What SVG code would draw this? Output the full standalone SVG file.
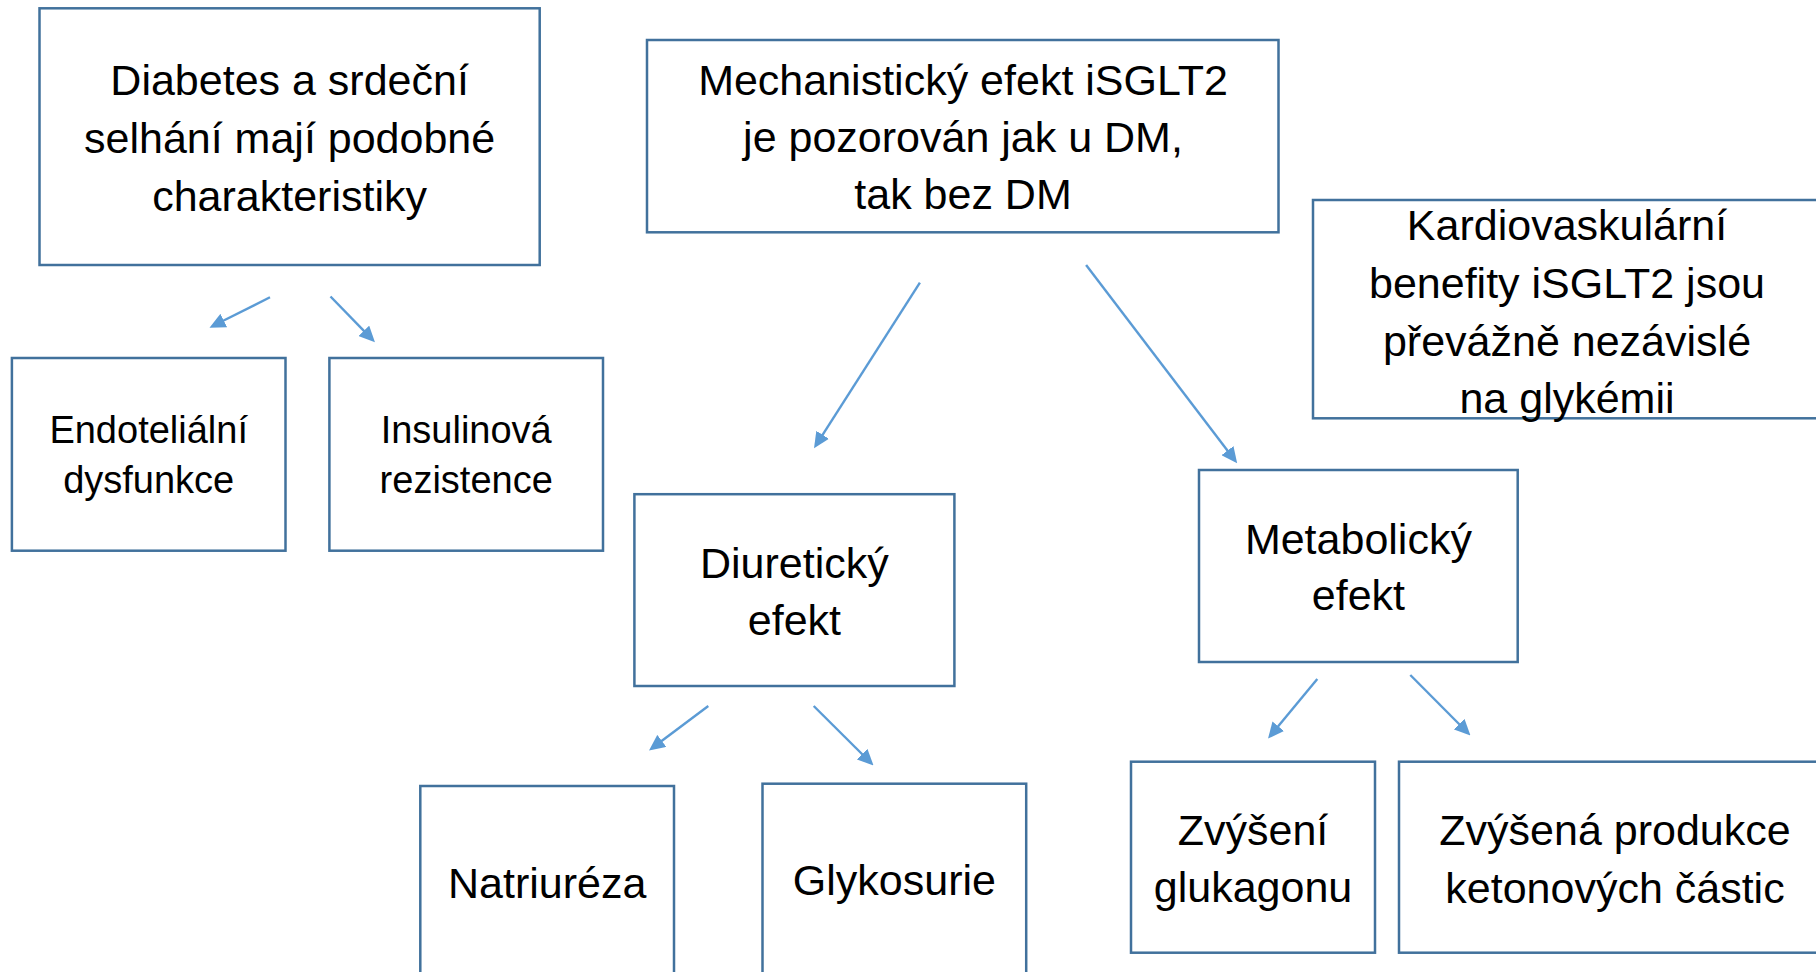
<svg xmlns="http://www.w3.org/2000/svg" width="1816" height="972" viewBox="0 0 1816 972">
  <style>
    .box { fill: #ffffff; stroke: #41719C; stroke-width: 2.5; }
    .lbl { font-family: "Liberation Sans", Arial, sans-serif; font-size: 43px; fill: #000000; text-anchor: middle; }
    .sm { font-size: 38px; }
    .conn { stroke: #5B9BD5; stroke-width: 2.4; fill: none; marker-end: url(#arrow); }
  </style>
  <defs>
    <marker id="arrow" markerUnits="userSpaceOnUse" viewBox="0 0 16 15" markerWidth="16" markerHeight="15" refX="4" refY="7.5" orient="auto">
      <path d="M0,0 L16,7.5 L0,15 Z" fill="#5B9BD5"/>
    </marker>
  </defs>
  <rect width="1816" height="972" fill="#ffffff"/>

  <g id="connectors">
    <line class="conn" x1="270" y1="297.3" x2="220.2" y2="322.3"/>
    <line class="conn" x1="330.5" y1="296.5" x2="366.6" y2="333.7"/>
    <line class="conn" x1="919.9" y1="282.7" x2="820.5" y2="438.2"/>
    <line class="conn" x1="1086.1" y1="265" x2="1229.9" y2="453.8"/>
    <line class="conn" x1="708.3" y1="706" x2="658.6" y2="743.3"/>
    <line class="conn" x1="813.7" y1="706" x2="865" y2="757"/>
    <line class="conn" x1="1317.3" y1="679" x2="1275.7" y2="729.3"/>
    <line class="conn" x1="1410.3" y1="675" x2="1462" y2="727"/>
  </g>

  <g id="node-diabetes">
    <rect class="box" x="39.5" y="8.3" width="500.2" height="256.7"/>
    <text class="lbl" x="289.6" y="95">Diabetes a srdeční</text>
    <text class="lbl" x="289.6" y="153">selhání mají podobné</text>
    <text class="lbl" x="289.6" y="211">charakteristiky</text>
  </g>

  <g id="node-mechanisticky">
    <rect class="box" x="647" y="40" width="631.5" height="192.3"/>
    <text class="lbl" x="963" y="95">Mechanistický efekt iSGLT2</text>
    <text class="lbl" x="963" y="152">je pozorován jak u DM,</text>
    <text class="lbl" x="963" y="209">tak bez DM</text>
  </g>

  <g id="node-kardiovaskularni">
    <rect class="box" x="1313" y="200" width="507" height="218.3"/>
    <text class="lbl" x="1567" y="240">Kardiovaskulární</text>
    <text class="lbl" x="1567" y="298">benefity iSGLT2 jsou</text>
    <text class="lbl" x="1567" y="356">převážně nezávislé</text>
    <text class="lbl" x="1567" y="413">na glykémii</text>
  </g>

  <g id="node-endotelialni">
    <rect class="box" x="11.9" y="358" width="273.6" height="192.7"/>
    <text class="lbl sm" x="148.7" y="442.7">Endoteliální</text>
    <text class="lbl sm" x="148.7" y="493.3">dysfunkce</text>
  </g>

  <g id="node-insulinova">
    <rect class="box" x="329.4" y="358" width="273.6" height="192.7"/>
    <text class="lbl sm" x="466.2" y="442.7">Insulinová</text>
    <text class="lbl sm" x="466.2" y="493.3">rezistence</text>
  </g>

  <g id="node-diureticky">
    <rect class="box" x="634.4" y="494.2" width="320" height="191.8"/>
    <text class="lbl" x="794.4" y="578">Diuretický</text>
    <text class="lbl" x="794.4" y="635">efekt</text>
  </g>

  <g id="node-metabolicky">
    <rect class="box" x="1199" y="470" width="318.7" height="192"/>
    <text class="lbl" x="1358.4" y="554">Metabolický</text>
    <text class="lbl" x="1358.4" y="610">efekt</text>
  </g>

  <g id="node-natriureza">
    <rect class="box" x="420.3" y="786" width="253.7" height="210"/>
    <text class="lbl" x="547.2" y="898.3">Natriuréza</text>
  </g>

  <g id="node-glykosurie">
    <rect class="box" x="762.5" y="783.7" width="263.7" height="212"/>
    <text class="lbl" x="894.4" y="895">Glykosurie</text>
  </g>

  <g id="node-glukagon">
    <rect class="box" x="1131" y="761.7" width="244" height="191"/>
    <text class="lbl" x="1253" y="845">Zvýšení</text>
    <text class="lbl" x="1253" y="902.3">glukagonu</text>
  </g>

  <g id="node-ketony">
    <rect class="box" x="1399" y="761.7" width="432" height="191"/>
    <text class="lbl" x="1615" y="845">Zvýšená produkce</text>
    <text class="lbl" x="1615" y="903">ketonových částic</text>
  </g>
</svg>
